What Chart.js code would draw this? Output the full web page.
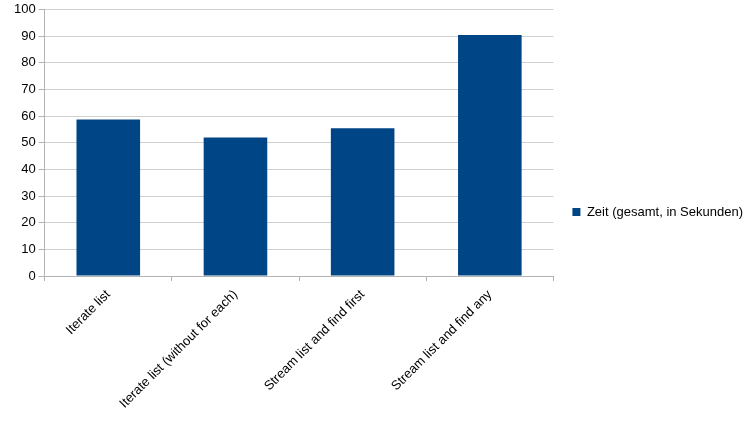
<!DOCTYPE html>
<html>
<head>
<meta charset="utf-8">
<script src="https://cdn.jsdelivr.net/npm/chart.js@4.4.1/dist/chart.umd.min.js"></script>
<style>
  html, body { margin: 0; padding: 0; background: #fff; }
  #wrap { width: 756px; height: 426px; }
</style>
</head>
<body>
<div id="wrap"><canvas id="chart" width="756" height="426"></canvas></div>
<script>
const categories = [
  "Iterate list",
  "Iterate list (without for each)",
  "Stream list and find first",
  "Stream list and find any"
];
const zeit = [58.7, 52.0, 55.4, 90.4];
const seriesName = "Zeit (gesamt, in Sekunden)";

Chart.defaults.font.family = "'Liberation Sans', Arial, sans-serif";
Chart.defaults.font.size = 13;
Chart.defaults.color = "#000";

const ctx = document.getElementById("chart").getContext("2d");
new Chart(ctx, {
  type: "bar",
  data: {
    labels: categories,
    datasets: [{
      label: seriesName,
      data: zeit,
      backgroundColor: "#004586",
      borderWidth: 0,
      categoryPercentage: 0.5,
      barPercentage: 1.0
    }]
  },
  options: {
    responsive: false,
    animation: false,
    layout: { padding: { left: 11, right: 3, top: 0, bottom: 2 } },
    plugins: {
      tooltip: { enabled: false },
      legend: {
        position: "right",
        maxWidth: 250,
        labels: { boxWidth: 8, boxHeight: 8, padding: 10, color: "#000" }
      }
    },
    scales: {
      x: {
        grid: {
          offset: true,
          drawOnChartArea: false,
          drawTicks: true,
          tickLength: 5,
          color: "#b3b3b3"
        },
        border: { color: "#b3b3b3" },
        ticks: { minRotation: 45, maxRotation: 45, padding: 6, autoSkip: false },
        afterFit: (s) => { s.height = 148; }
      },
      y: {
        min: 0,
        max: 100,
        ticks: { stepSize: 10, padding: 3, font: { lineHeight: 1 } },
        grid: { color: "#d0d0d0", tickLength: 6, tickColor: "#b3b3b3" },
        border: { color: "#b3b3b3" }
      },
      // empty spacer between plot and legend
      spacer: {
        type: "linear",
        position: "right",
        grid: { display: false },
        border: { display: false },
        ticks: { display: false },
        afterFit: (s) => { s.width = 9; }
      }
    }
  }
});
</script>
</body>
</html>
